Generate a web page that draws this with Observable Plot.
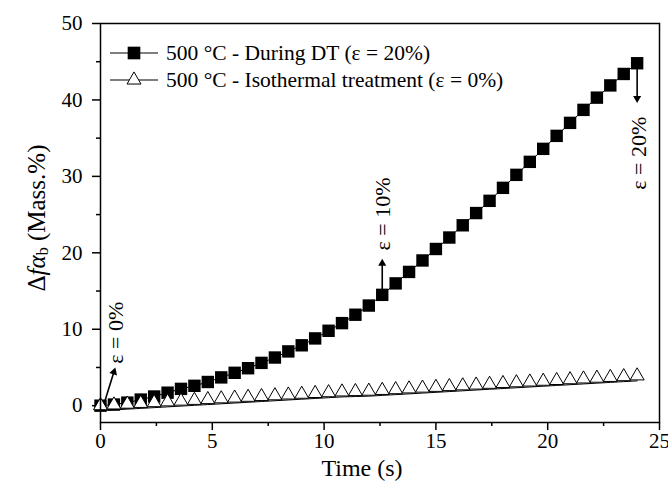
<!DOCTYPE html>
<html><head><meta charset="utf-8">
<script src="https://cdn.jsdelivr.net/npm/d3@7"></script>
<script src="https://cdn.jsdelivr.net/npm/@observablehq/plot@0.6"></script>
<style>
html,body{margin:0;padding:0;background:#fff;}
#chart{position:relative;width:668px;height:489px;}
svg{overflow:visible;}
</style></head><body><div id="chart"></div>
<script>
// ---- data ----
const times = [0,0.6,1.2,1.8,2.4,3.0,3.6,4.2,4.8,5.4,6.0,6.6,7.2,7.8,8.4,9.0,9.6,10.2,10.8,11.4,12.0,12.6,13.2,13.8,14.4,15.0,15.6,16.2,16.8,17.4,18.0,18.6,19.2,19.8,20.4,21.0,21.6,22.2,22.8,23.4,24.0];
const duringDT = [0.0,0.15,0.4,0.8,1.2,1.7,2.2,2.6,3.1,3.7,4.3,4.9,5.6,6.3,7.1,7.9,8.8,9.8,10.8,11.9,13.1,14.5,16.0,17.5,19.0,20.5,22.0,23.6,25.2,26.8,28.5,30.2,31.9,33.6,35.3,37.0,38.7,40.3,41.9,43.4,44.8];
const isothermal = [0.0,0.1,0.2,0.3,0.4,0.5,0.6,0.7,0.8,0.9,1.0,1.1,1.2,1.3,1.4,1.5,1.6,1.7,1.8,1.85,1.9,2.0,2.1,2.2,2.3,2.4,2.5,2.6,2.7,2.8,2.9,3.0,3.1,3.2,3.3,3.4,3.5,3.6,3.7,3.8,3.9];
const seriesNames = ["500 °C - During DT (ε = 20%)", "500 °C - Isothermal treatment (ε = 0%)"];
const xTicks = [0,5,10,15,20,25];
const xMinor = [2.5,7.5,12.5,17.5,22.5];
const yTicks = [0,10,20,30,40,50];
const yMinor = [5,15,25,35,45];
const xLabel = "Time (s)";
// annotations (arrows + rotated labels)
const annotLabels = ["ε = 0%","ε = 10%","ε = 20%"];
const annotX1 = [0.13, 12.6, 24.0];
const annotY1 = [0.0, 14.5, 44.8];
const annotX2 = [0.6, 12.6, 24.0];
const annotY2 = [4.4, 18.6, 40.2];
const annotHeadRotate = [18, 0, 180];
const annotTextX = [0.67, 12.62, 24.06];
const annotTextY = [5.5, 20.3, 37.8];
const annotAnchor = ["start","start","end"];

const rows = times.map((t,i)=>({t, dt: duringDT[i], iso: isothermal[i]}));
const arrows = annotLabels.map((l,i)=>({label:l, x1:annotX1[i], y1:annotY1[i], x2:annotX2[i], y2:annotY2[i], rot:annotHeadRotate[i], tx:annotTextX[i], ty:annotTextY[i], anchor:annotAnchor[i]}));

const FONT = "Liberation Serif, Times New Roman, serif";

const plot = Plot.plot({
  width: 668, height: 489,
  marginLeft: 100, marginRight: 9, marginTop: 23, marginBottom: 67,
  style: {fontFamily: FONT, fontSize: "21px", color: "#000", background: "#fff", overflow: "visible"},
  x: {domain: [0, 25]},
  y: {domain: [-2.2, 50]},
  marks: [
    Plot.axisX(xTicks, {tickSize: 8, tickPadding: 3, strokeWidth: 1.5, label: null, fontSize: 21}),
    Plot.axisX(xMinor, {tickSize: 4, tickFormat: () => "", strokeWidth: 1.5, label: null}),
    Plot.axisY(yTicks, {tickSize: 8, tickPadding: 10, strokeWidth: 1.5, label: null, fontSize: 21}),
    Plot.axisY(yMinor, {tickSize: 4, tickFormat: () => "", strokeWidth: 1.5, label: null}),
    Plot.text([xLabel], {frameAnchor: "bottom", dy: 46, dx: -18, text: d => d, fontSize: 24, lineAnchor: "middle"}),
    // arrows
    Plot.link(arrows, {x1: "x1", y1: "y1", x2: "x2", y2: "y2", stroke: "#000", strokeWidth: 1.6}),
    Plot.dot(arrows, {x: "x2", y: "y2", symbol: "triangle", r: 3, fill: "#000", stroke: "none", rotate: "rot"}),
    Plot.text(arrows.filter(d => d.anchor === "start"), {x: "tx", y: "ty", text: "label", rotate: -90, textAnchor: "start", fontSize: 22, lineAnchor: "middle"}),
    Plot.text(arrows.filter(d => d.anchor === "end"), {x: "tx", y: "ty", text: "label", rotate: -90, textAnchor: "end", fontSize: 22, lineAnchor: "middle"}),
    // During DT
    Plot.line(rows, {x: "t", y: "dt", stroke: "#000", strokeWidth: 1}),
    Plot.dot(rows, {x: "t", y: "dt", symbol: "square", r: 7, fill: "#000", stroke: "none"}),
    // Isothermal
    Plot.line(rows, {x: "t", y: "iso", stroke: "#000", strokeWidth: 1, dy: 5}),
    Plot.dot(rows, {x: "t", y: "iso", symbol: "triangle", r: 5.2, fill: "#fff", stroke: "#000", strokeWidth: 1}),
    Plot.frame({stroke: "#000", strokeWidth: 1.5})
  ]
});

document.getElementById("chart").appendChild(plot);
const svg = d3.select(plot);

// Y axis title with subscript
const yt = svg.append("text")
  .attr("transform", "translate(36,218) rotate(-90)")
  .attr("text-anchor", "middle")
  .attr("dominant-baseline", "central")
  .attr("font-family", FONT).attr("font-size", 25).attr("fill", "#000");
yt.append("tspan").text("Δ");
yt.append("tspan").attr("font-style", "italic").text("fα");
yt.append("tspan").attr("font-size", 16).attr("dy", 6).text("b");
yt.append("tspan").attr("dy", -6).text(" (Mass.%)");

// Legend
const leg = svg.append("g").attr("font-family", FONT).attr("font-size", 21.5).attr("text-anchor", "start");
const legRows = [{y: 53, sym: "square"}, {y: 80, sym: "triangle"}];
legRows.forEach((r, i) => {
  leg.append("line").attr("x1", 110).attr("x2", 158).attr("y1", r.y).attr("y2", r.y).attr("stroke", "#000").attr("stroke-width", 1.2);
  if (r.sym === "square") {
    leg.append("path").attr("d", d3.symbol(d3.symbolSquare, 160)()).attr("transform", `translate(134,${r.y})`).attr("fill", "#000");
  } else {
    leg.append("path").attr("d", d3.symbol(d3.symbolTriangle, 85)()).attr("transform", `translate(134,${r.y})`).attr("fill", "#fff").attr("stroke", "#000");
  }
  leg.append("text").attr("x", 166).attr("y", r.y).attr("text-anchor", "start").attr("dominant-baseline", "central").attr("fill", "#000").text(seriesNames[i]);
});
</script>
</body></html>
